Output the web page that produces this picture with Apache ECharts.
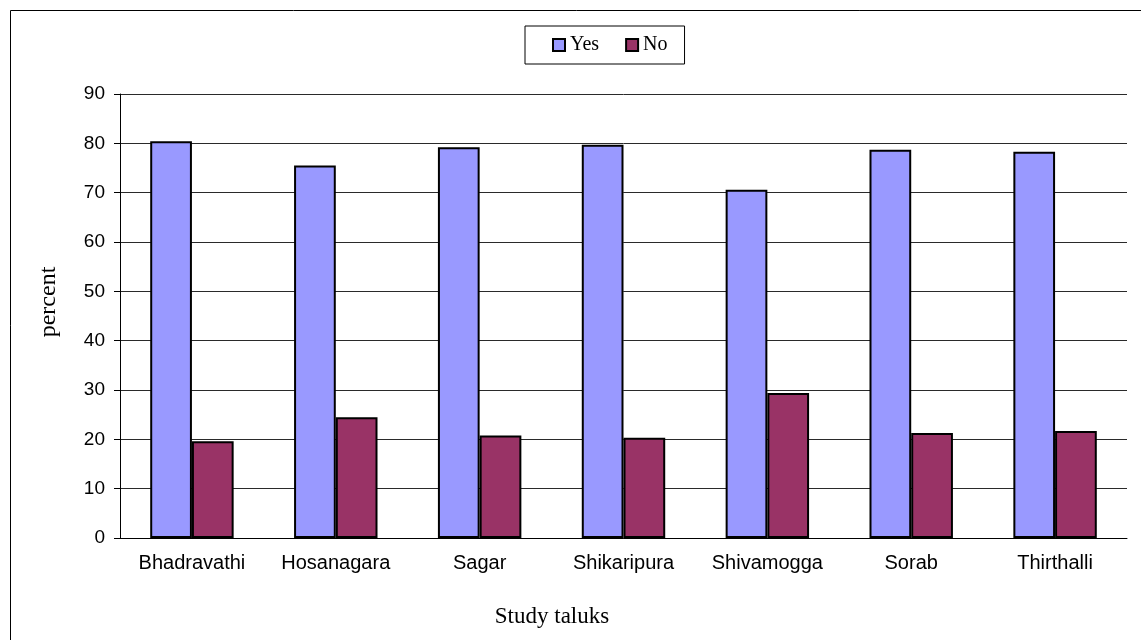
<!DOCTYPE html>
<html>
<head>
<meta charset="utf-8">
<title>Study taluks</title>
<script src="https://cdn.jsdelivr.net/npm/echarts@6/dist/echarts.min.js"></script>
<style>
  html, body { margin: 0; padding: 0; background: #fff; }
  #chart { width: 1141px; height: 640px; }
</style>
</head>
<body>
<div id="chart"></div>
<script>
// Taluks of the study area and the share of answers (percent)
const categories = ['Bhadravathi', 'Hosanagara', 'Sagar', 'Shikaripura', 'Shivamogga', 'Sorab', 'Thirthalli'];
const yesValues = [80.4, 75.5, 79.2, 79.7, 70.6, 78.7, 78.3];
const noValues = [19.6, 24.5, 20.8, 20.3, 29.4, 21.3, 21.7];
const seriesNames = ['Yes', 'No'];
const axisTitleX = 'Study taluks';
const axisTitleY = 'percent';

const chart = echarts.init(document.getElementById('chart'), null, { renderer: 'canvas' });

const barStyle = (color) => ({ color: color, borderColor: '#000', borderWidth: 2 });

chart.setOption({
  animation: false,
  backgroundColor: '#fff',
  textStyle: { fontFamily: 'Liberation Sans, Arial, sans-serif' },
  grid: { left: 120, right: 14, top: 94, bottom: 102, containLabel: false },
  legend: {
    data: seriesNames,
    left: 525,
    top: 26,
    orient: 'horizontal',
    padding: [9, 17, 9, 27],
    itemWidth: 12,
    itemHeight: 12,
    itemGap: 26,
    itemTextGap: 5,
    icon: 'rect',
    backgroundColor: '#fff',
    borderColor: '#000',
    borderWidth: 1,
    textStyle: { fontFamily: 'Liberation Serif, Times New Roman, serif', fontSize: 20, color: '#000' },
    itemStyle: { borderColor: '#000', borderWidth: 2 }
  },
  xAxis: {
    type: 'category',
    data: categories,
    axisLine: { show: true, lineStyle: { color: '#000', width: 1 } },
    axisTick: { show: false },
    axisLabel: { color: '#000', fontSize: 20, margin: 15, interval: 0 },
    splitLine: { show: false }
  },
  yAxis: {
    type: 'value',
    min: 0,
    max: 90,
    interval: 10,
    axisLine: { show: true, lineStyle: { color: '#000', width: 1 } },
    axisTick: { show: true, inside: false, length: 6, lineStyle: { color: '#000' } },
    axisLabel: { color: '#000', fontSize: 19, margin: 15 },
    splitLine: { show: true, lineStyle: { color: '#2a2a2a', width: 1 } }
  },
  series: [
    {
      name: seriesNames[0],
      type: 'bar',
      data: yesValues,
      barGap: '0%',
      barCategoryGap: '42%',
      itemStyle: barStyle('#9999FF')
    },
    {
      name: seriesNames[1],
      type: 'bar',
      data: noValues,
      barGap: '0%',
      barCategoryGap: '42%',
      itemStyle: barStyle('#993366')
    }
  ],
  graphic: [
    {
      type: 'rect',
      silent: true,
      z: 100,
      shape: { x: 10.5, y: 10.5, width: 1200, height: 700 },
      style: { fill: null, stroke: '#000', lineWidth: 1 }
    },
    {
      type: 'text',
      silent: true,
      x: 552,
      y: 617,
      style: {
        text: axisTitleX,
        font: '23px "Liberation Serif", "Times New Roman", serif',
        fill: '#000',
        textAlign: 'center',
        textVerticalAlign: 'middle'
      }
    },
    {
      type: 'text',
      silent: true,
      x: 49,
      y: 302,
      rotation: Math.PI / 2,
      style: {
        text: axisTitleY,
        font: '24px "Liberation Serif", "Times New Roman", serif',
        fill: '#000',
        textAlign: 'center',
        textVerticalAlign: 'middle'
      }
    }
  ]
});
</script>
</body>
</html>
